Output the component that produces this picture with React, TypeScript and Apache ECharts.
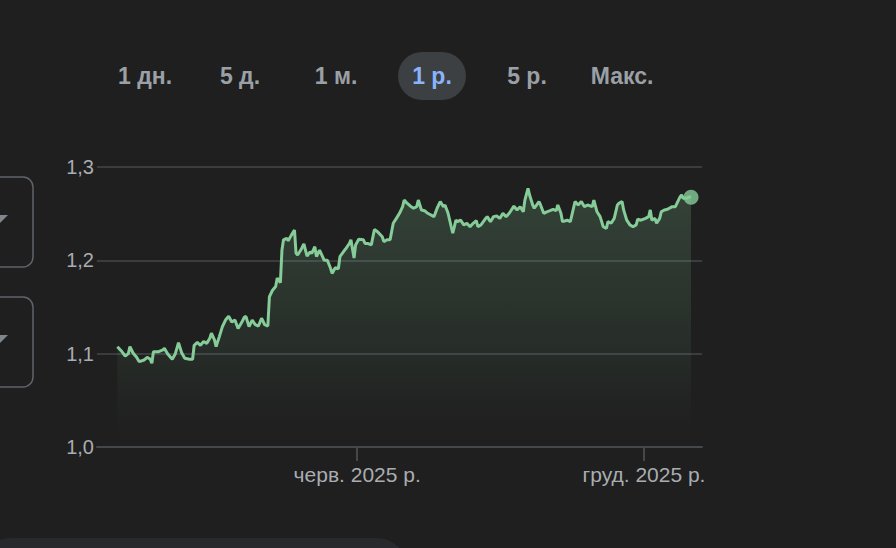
import React, { useEffect, useRef } from "react";
import * as echarts from "echarts";

// ---- data ----
const startDateUTC = Date.UTC(2024, 11, 30);
const axisStartUTC = Date.UTC(2024, 11, 17);
const axisEndUTC = Date.UTC(2026, 0, 7);

const dayOffsets = [
  0, 3, 5, 7, 8, 10, 12, 14, 17, 19, 21, 22, 23, 26, 29, 30, 32, 35, 37, 39, 41, 43, 46, 48, 49, 51, 53, 55, 57, 59, 60, 62, 63, 65,
  67, 69, 71, 73, 75, 77, 79, 81, 82, 84, 86, 88, 90, 92, 94, 96, 97, 99, 101, 102, 104, 105, 106, 108, 109, 111, 113, 114, 115, 117, 119, 121, 123, 124, 126, 127, 129, 132,
  134, 136, 137, 139, 141, 142, 145, 146, 148, 149, 151, 152, 154, 157, 158, 160, 162, 164, 166, 169, 170, 172, 174, 176, 178, 180, 182, 183, 185, 187, 189, 191, 192, 194,
  196, 198, 202, 204, 206, 208, 209, 211, 213, 214, 216, 217, 219, 221, 223, 225, 227, 229, 230, 232, 235, 236, 238, 240, 242, 244, 246, 248, 250, 253, 255,
  257, 259, 260, 262, 263, 265, 266, 269, 270, 272, 274, 276, 278, 280, 281, 283, 284, 287, 289, 290, 292, 294, 296, 298, 300, 303, 304, 306, 308, 310, 312,
  313, 315, 317, 319, 320, 322, 323, 325, 327, 329, 331, 332, 334, 337, 339, 340, 341, 343, 344, 346, 347, 349, 351, 354, 356, 357, 359, 360, 361, 363, 365, 366,
];

const prices = [
  1.1075, 1.102, 1.0975, 1.1, 1.1075, 1.1007, 1.0968, 1.0914, 1.0932, 1.0961, 1.094, 1.0897, 1.102, 1.102, 1.104, 1.1057, 1.1, 1.094, 1.1, 1.1118, 1.101, 1.095, 1.094, 1.094, 1.109, 1.112, 1.109, 1.113, 1.111, 1.1165, 1.122, 1.1146, 1.1075, 1.118,
  1.129, 1.136, 1.14, 1.134, 1.136, 1.127, 1.1325, 1.139, 1.14, 1.129, 1.136, 1.131, 1.1296, 1.138, 1.131, 1.1296, 1.161, 1.168, 1.172, 1.181, 1.176, 1.211, 1.222, 1.2236, 1.221, 1.227, 1.2325, 1.2075, 1.2057, 1.211, 1.2175, 1.2046, 1.209, 1.2075, 1.2146, 1.204, 1.211, 1.2,
  1.2, 1.1915, 1.186, 1.192, 1.191, 1.204, 1.211, 1.213, 1.218, 1.222, 1.2025, 1.2165, 1.2225, 1.222, 1.218, 1.218, 1.2165, 1.233, 1.2307, 1.2253, 1.22, 1.222, 1.222, 1.2397, 1.245, 1.2504, 1.2575, 1.2646, 1.261, 1.258, 1.2558, 1.2575, 1.2646, 1.254,
  1.2532, 1.2504, 1.2468, 1.2558, 1.263, 1.2575, 1.2593, 1.2504, 1.236, 1.229, 1.243, 1.2414, 1.243, 1.238, 1.2397, 1.236, 1.2397, 1.2425, 1.236, 1.238, 1.245, 1.2468, 1.2414, 1.2468, 1.2475, 1.245, 1.2504, 1.2468, 1.2504, 1.258, 1.254,
  1.2575, 1.252, 1.2646, 1.277, 1.27, 1.2593, 1.2558, 1.263, 1.2593, 1.2504, 1.252, 1.2532, 1.2547, 1.2532, 1.2593, 1.2504, 1.2414, 1.243, 1.2414, 1.2486, 1.263, 1.2593, 1.263, 1.2575, 1.2593, 1.2575, 1.2646, 1.252, 1.2468, 1.236, 1.2343,
  1.2414, 1.2397, 1.245, 1.2593, 1.261, 1.263, 1.254, 1.243, 1.238, 1.236, 1.238, 1.244, 1.243, 1.245, 1.2468, 1.254, 1.243, 1.245, 1.2397, 1.245, 1.252, 1.254, 1.2547, 1.2575, 1.2575, 1.261, 1.268, 1.27, 1.2665, 1.2665, 1.268, 1.2675,
];

const xTickDates = [Date.UTC(2025, 5, 1), Date.UTC(2025, 11, 1)];
const xTickLabels = ["черв. 2025 р.", "груд. 2025 р."];
const yMin = 1.0;
const yMax = 1.3;
const yStep = 0.1;

const rangeButtons = ["1 дн.", "5 д.", "1 м.", "1 р.", "5 р.", "Макс."];
const selectedRange = "1 р.";

const DAY_MS = 86400000;
const GREEN = "#85cc98";
const BG = "#1f1f1f";
const FONT = "'Liberation Sans', Arial, Helvetica, sans-serif";

export default function App() {
  const ref = useRef<HTMLDivElement | null>(null);

  useEffect(() => {
    if (!ref.current) return;
    const chart = echarts.init(ref.current, undefined, { renderer: "svg" });

    const seriesData = dayOffsets.map((d, i) => [startDateUTC + d * DAY_MS, prices[i]]);
    const last = seriesData[seriesData.length - 1];

    const buttonCenters = [145, 240, 336, 432, 527, 622];
    const buttonGraphics: any[] = [];
    rangeButtons.forEach((label, i) => {
      const sel = label === selectedRange;
      if (sel) {
        buttonGraphics.push({
          type: "rect",
          shape: { x: buttonCenters[i] - 34, y: 52, width: 68, height: 48, r: 24 },
          style: { fill: "#3c4043" },
          silent: true,
        });
      }
      buttonGraphics.push({
        type: "text",
        x: buttonCenters[i],
        y: 76,
        style: {
          text: label,
          fill: sel ? "#8ab4f8" : "#9aa0a6",
          font: `bold 23px ${FONT}`,
          textAlign: "center",
          textVerticalAlign: "middle",
        },
        silent: true,
      });
    });

    const sideGraphics = [
      {
        type: "rect",
        shape: { x: -20, y: 177, width: 53, height: 90, r: 10 },
        style: { fill: "none", stroke: "#5f6368", lineWidth: 1.5 },
        silent: true,
      },
      {
        type: "polygon",
        shape: { points: [[-8, 215], [8, 215], [0, 223]] },
        style: { fill: "#80868b" },
        silent: true,
      },
      {
        type: "rect",
        shape: { x: -20, y: 297, width: 53, height: 90, r: 10 },
        style: { fill: "none", stroke: "#5f6368", lineWidth: 1.5 },
        silent: true,
      },
      {
        type: "polygon",
        shape: { points: [[-8, 335], [8, 335], [0, 343]] },
        style: { fill: "#80868b" },
        silent: true,
      },
      {
        type: "rect",
        shape: { x: -20, y: 538, width: 427, height: 60, r: 30 },
        style: { fill: "#28292c" },
        silent: true,
      },
    ];

    const labelFor = (v: number) => {
      let best = -1;
      let bestD = Infinity;
      xTickDates.forEach((t, i) => {
        const d = Math.abs(t - v);
        if (d < bestD) {
          bestD = d;
          best = i;
        }
      });
      return best >= 0 && bestD < DAY_MS ? xTickLabels[best] : "";
    };

    chart.setOption({
      animation: false,
      backgroundColor: BG,
      textStyle: { fontFamily: FONT },
      grid: { left: 97, right: 194, top: 167, bottom: 101, outerBoundsMode: "none" },
      xAxis: {
        type: "value",
        min: axisStartUTC,
        max: axisEndUTC,
        axisLine: { show: true, lineStyle: { color: "#45484b", width: 2 } },
        axisTick: {
          show: true,
          length: 14,
          customValues: xTickDates,
          lineStyle: { color: "#45484b", width: 2 },
        },
        axisLabel: {
          customValues: xTickDates,
          formatter: (v: number) => labelFor(v),
          color: "#a9adb1",
          fontSize: 21,
          fontFamily: FONT,
          margin: 17,
        },
        splitLine: { show: false },
      },
      yAxis: {
        type: "value",
        min: yMin,
        max: yMax,
        interval: yStep,
        axisLine: { show: false },
        axisTick: { show: false },
        axisLabel: {
          formatter: (v: number) => v.toFixed(1).replace(".", ","),
          color: "#a9adb1",
          fontSize: 20,
          fontFamily: FONT,
          margin: 3,
        },
        splitLine: { show: true, lineStyle: { color: "#3a3c3f", width: 2 } },
      },
      series: [
        {
          type: "line",
          data: seriesData,
          showSymbol: false,
          symbol: "none",
          lineStyle: { color: GREEN, width: 3 },
          areaStyle: {
            color: new echarts.graphic.LinearGradient(0, 0, 0, 1, [
              { offset: 0, color: "rgba(129,201,149,0.3)" },
              { offset: 0.6, color: "rgba(129,201,149,0.12)" },
              { offset: 0.9, color: "rgba(129,201,149,0.01)" },
              { offset: 1, color: "rgba(129,201,149,0)" },
            ]),
          },
          z: 3,
        },
        {
          type: "scatter",
          data: [last],
          symbol: "circle",
          symbolSize: 15,
          itemStyle: { color: GREEN },
          z: 5,
        },
      ],
      graphic: [...sideGraphics, ...buttonGraphics],
    });

    return () => chart.dispose();
  }, []);

  return (
    <div
      ref={ref}
      style={{ position: "fixed", left: 0, top: 0, width: 896, height: 548, background: BG }}
    />
  );
}
